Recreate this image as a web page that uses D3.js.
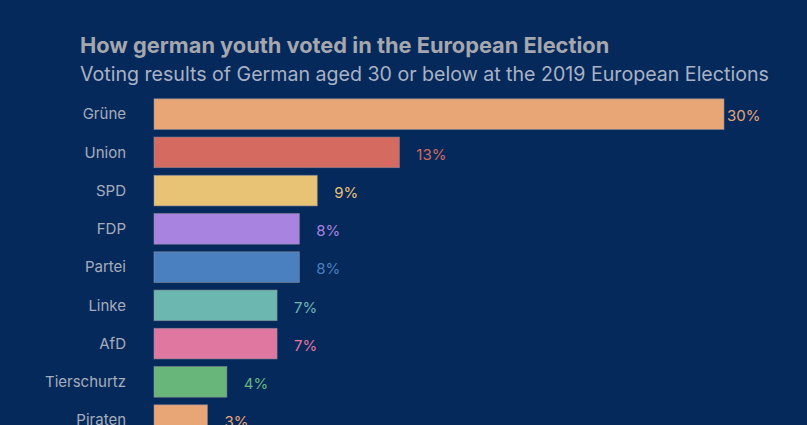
<!DOCTYPE html>
<html>
<head>
<meta charset="utf-8">
<script src="https://cdn.jsdelivr.net/npm/d3@7"></script>
<style>
html,body{margin:0;padding:0;background:#06295c;overflow:hidden;}
svg{display:block;}
</style>
</head>
<body>
<div id="chart"></div>
<script>
const parties = ["Grüne","Union","SPD","FDP","Partei","Linke","AfD","Tierschurtz","Piraten"];
const shares = [30.2, 13.0, 8.65, 7.7, 7.7, 6.52, 6.52, 3.86, 2.83];
const colors = ["#e8a677","#d46a60","#e8c275","#a884e0","#4b80c0","#6cb8b1","#e077a0","#69b67b","#e8a677"];
const titleText = "How german youth voted in the European Election";
const subtitleText = "Voting results of German aged 30 or below at the 2019 European Elections";

const W = 807, H = 425;
const svg = d3.select("#chart").append("svg").attr("width", W).attr("height", H);
svg.append("rect").attr("width", W).attr("height", H).attr("fill", "#06295c");

svg.append("text").attr("x", 80).attr("y", 53)
  .attr("font-family", "Inter, sans-serif").attr("font-weight", 700).attr("font-size", 21.8)
  .attr("fill", "#a5a7ad").text(titleText);
svg.append("text").attr("x", 80).attr("y", 81)
  .attr("font-family", "Inter, sans-serif").attr("font-weight", 400).attr("font-size", 19.6)
  .attr("fill", "#a9b2c3").text(subtitleText);

const x = d3.scaleLinear().domain([0, d3.max(shares)]).range([154, 724]);
const y = d3.scaleBand().domain(parties).range([95, 95 + 38.25 * parties.length]).paddingInner(0.2).paddingOuter(0.1);

const data = parties.map((p, i) => ({p, v: shares[i], c: colors[i]}));

svg.append("g").selectAll("rect").data(data).join("rect")
  .attr("x", x(0)).attr("y", d => y(d.p))
  .attr("width", d => x(d.v) - x(0)).attr("height", y.bandwidth())
  .attr("fill", d => d.c).attr("stroke", "#8d8f99").attr("stroke-width", 0.8).attr("stroke-opacity", 0.7);

svg.append("g").selectAll("text").data(data).join("text")
  .attr("x", 126).attr("y", d => y(d.p) + y.bandwidth() / 2)
  .attr("dy", "0.35em").attr("text-anchor", "end")
  .attr("font-family", "Inter, sans-serif").attr("font-size", 15)
  .attr("fill", "#a6adba").text(d => d.p);

const fmt = d3.format(".0f");
svg.append("g").selectAll("text").data(data).join("text")
  .attr("x", d => Math.min(x(d.v) + 17, 727)).attr("y", d => y(d.p) + y.bandwidth() / 2 + 2)
  .attr("dy", "0.35em")
  .attr("font-family", "Inter, sans-serif").attr("font-size", 15)
  .attr("fill", d => d.c).text(d => fmt(d.v) + "%");
</script>
</body>
</html>
